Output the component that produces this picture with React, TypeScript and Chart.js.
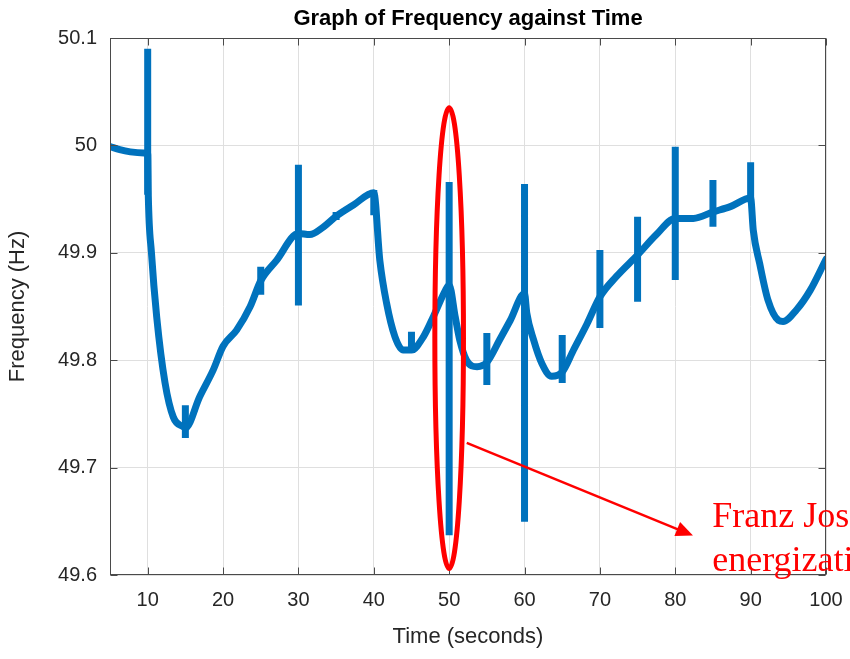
import React, { useEffect, useRef } from 'react';
import { Chart, registerables } from 'chart.js';

Chart.register(...registerables);

// ---- data ----
const timeValues = [
  5, 6.3, 7.7, 9.5, 10, 10.08, 10.5, 11.2, 12.3, 13.4, 14.7, 15, 16.9, 18.7, 20,
  21.8, 23.6, 25, 27.1, 30, 31.5, 33.3, 35, 37.3, 40, 40.8, 41.7, 42.8, 43.9, 45,
  46.6, 47.9, 49.5, 50, 50.8, 51.4, 52.3, 53.7, 55, 56.7, 58.1, 60, 60.3, 61.2,
  62.3, 63.6, 65, 66.5, 68.3, 70, 72.2, 75, 77.5, 80, 82.4, 85, 87.3, 90, 90.35,
  91.2, 92.3, 93.7, 94.3, 96.1, 97.9, 100,
];
const frequencyValues = [
  49.999, 49.996, 49.994, 49.993, 49.993, 49.954, 49.9, 49.84, 49.779, 49.747, 49.738,
  49.737, 49.766, 49.791, 49.813, 49.828, 49.85, 49.874, 49.893, 49.918, 49.917, 49.924,
  49.934, 49.9445, 49.956, 49.893, 49.853, 49.822, 49.8095, 49.8095, 49.822, 49.8405,
  49.865, 49.87, 49.8405, 49.819, 49.8, 49.794, 49.798, 49.819, 49.837, 49.862, 49.844,
  49.819, 49.797, 49.785, 49.789, 49.8095, 49.834, 49.859, 49.878, 49.898, 49.917,
  49.932, 49.932, 49.938, 49.943, 49.951, 49.921, 49.89, 49.856, 49.837, 49.836,
  49.847, 49.865, 49.894,
];
const eventTimes = [10, 15, 25, 30, 35, 40, 45, 50, 55, 60, 65, 70, 75, 80, 85, 90];
const spikeHigh = [
  50.09, 49.758, 49.887, 49.982, 49.938, 49.9585, 49.8265, 49.966, 49.8253, 49.964,
  49.8235, 49.9026, 49.9336, 49.9988, 49.9678, 49.9843,
];
const spikeLow = [
  49.954, 49.7276, 49.861, 49.851, 49.9305, 49.935, 49.8067, 49.637, 49.7769, 49.6496,
  49.7788, 49.83, 49.8545, 49.8747, 49.9243, 49.951,
];
const xTickValues = [10, 20, 30, 40, 50, 60, 70, 80, 90, 100];
const yTickValues = [49.6, 49.7, 49.8, 49.9, 50, 50.1];
const yTickLabels = ['49.6', '49.7', '49.8', '49.9', '50', '50.1'];

const chartTitle = 'Graph of Frequency against Time';
const xTitle = 'Time (seconds)';
const yTitle = 'Frequency (Hz)';
const noteLines = ['Franz Josef', 'energization'];

// annotation anchors in data units
const ellipseAt = { x: 50, halfWidth: 1.9, top: 50.035, bottom: 49.606 };
const arrowAt = { x0: 52.33, y0: 49.723, x1: 82.35, y1: 49.6368 };
const noteAt = { x: 84.9, y: [49.645, 49.6037] };

const BLUE = '#0072BD';
const RED = '#ff0000';
const AXIS = '#262626';
const FONT = '"Liberation Sans", Arial, Helvetica, sans-serif';

const decorPlugin = {
  id: 'decor',
  afterDatasetsDraw(chart: any) {
    const { ctx, chartArea, scales } = chart;
    const L = Math.round(chartArea.left) + 0.5;
    const R = Math.round(chartArea.right) - 0.5;
    const T = Math.round(chartArea.top) + 0.5;
    const B = Math.round(chartArea.bottom) - 0.5;
    ctx.save();
    ctx.strokeStyle = '#4a4a4a';
    ctx.lineWidth = 1;
    ctx.strokeRect(L, T, R - L, B - T);
    ctx.beginPath();
    const tl = 7;
    xTickValues.forEach((v) => {
      const px = Math.round(scales.x.getPixelForValue(v)) + 0.5;
      ctx.moveTo(px, B);
      ctx.lineTo(px, B - tl);
      ctx.moveTo(px, T);
      ctx.lineTo(px, T + tl);
    });
    yTickValues.forEach((v) => {
      const py = Math.round(scales.y.getPixelForValue(v)) + 0.5;
      ctx.moveTo(L, py);
      ctx.lineTo(L + tl, py);
      ctx.moveTo(R, py);
      ctx.lineTo(R - tl, py);
    });
    ctx.stroke();
    ctx.restore();
  },
  afterDraw(chart: any) {
    const { ctx, scales, chartArea } = chart;
    const xs = scales.x;
    const ys = scales.y;
    ctx.save();
    // title, centred over the plot box
    ctx.fillStyle = '#000000';
    ctx.font = 'bold 22px ' + FONT;
    ctx.textAlign = 'center';
    ctx.textBaseline = 'middle';
    ctx.fillText(chartTitle, (chartArea.left + chartArea.right) / 2, chartArea.top / 2);
    // ellipse
    const cx = xs.getPixelForValue(ellipseAt.x);
    const rx = xs.getPixelForValue(ellipseAt.x + ellipseAt.halfWidth) - cx;
    const yt = ys.getPixelForValue(ellipseAt.top);
    const yb = ys.getPixelForValue(ellipseAt.bottom);
    ctx.strokeStyle = RED;
    ctx.lineWidth = 5;
    ctx.beginPath();
    ctx.ellipse(cx, (yt + yb) / 2, rx, (yb - yt) / 2, 0, 0, Math.PI * 2);
    ctx.stroke();
    // arrow
    const ax0 = xs.getPixelForValue(arrowAt.x0);
    const ay0 = ys.getPixelForValue(arrowAt.y0);
    const ax1 = xs.getPixelForValue(arrowAt.x1);
    const ay1 = ys.getPixelForValue(arrowAt.y1);
    const dx = ax1 - ax0;
    const dy = ay1 - ay0;
    const len = Math.hypot(dx, dy);
    const ux = dx / len;
    const uy = dy / len;
    const headLen = 17;
    const headHalf = 7.5;
    const bx = ax1 - ux * headLen;
    const by = ay1 - uy * headLen;
    ctx.lineWidth = 2.5;
    ctx.beginPath();
    ctx.moveTo(ax0, ay0);
    ctx.lineTo(bx + ux * 2, by + uy * 2);
    ctx.stroke();
    ctx.fillStyle = RED;
    ctx.beginPath();
    ctx.moveTo(ax1, ay1);
    ctx.lineTo(bx - uy * headHalf, by + ux * headHalf);
    ctx.lineTo(bx + uy * headHalf, by - ux * headHalf);
    ctx.closePath();
    ctx.fill();
    // note text
    ctx.font = '36px "Liberation Serif", "Times New Roman", serif';
    ctx.textAlign = 'left';
    ctx.textBaseline = 'alphabetic';
    const tx = xs.getPixelForValue(noteAt.x);
    noteLines.forEach((line, i) => {
      ctx.fillText(line, tx, ys.getPixelForValue(noteAt.y[i]));
    });
    ctx.restore();
  },
};

export default function App() {
  const ref = useRef<HTMLCanvasElement | null>(null);

  useEffect(() => {
    document.body.style.margin = '0';
    const canvas = ref.current;
    if (!canvas) return;
    Chart.defaults.font.family = FONT;
    const curve = timeValues.map((t, i) => ({ x: t, y: frequencyValues[i] }));
    const spikes: any[] = [];
    eventTimes.forEach((t, i) => {
      spikes.push({ x: t, y: spikeHigh[i] }, { x: t, y: spikeLow[i] }, { x: t, y: null });
    });
    const chart = new Chart(canvas, {
      type: 'line',
      data: {
        datasets: [
          {
            data: curve,
            borderColor: BLUE,
            borderWidth: 7,
            pointRadius: 0,
            cubicInterpolationMode: 'monotone',
            borderJoinStyle: 'round',
            borderCapStyle: 'round',
            fill: false,
          },
          {
            data: spikes,
            borderColor: BLUE,
            borderWidth: 7,
            pointRadius: 0,
            tension: 0,
            spanGaps: false,
            borderCapStyle: 'butt',
            fill: false,
          },
        ],
      } as any,
      options: {
        responsive: false,
        animation: false,
        events: [],
        layout: { padding: { left: 0, right: 24, top: 38, bottom: 0 } },
        plugins: {
          legend: { display: false },
          tooltip: { enabled: false },
          title: { display: false },
        },
        scales: {
          x: {
            type: 'linear',
            min: 5,
            max: 100,
            afterBuildTicks: (s: any) => {
              s.ticks = xTickValues.map((v) => ({ value: v }));
            },
            afterFit: (s: any) => {
              s.height = 84;
              s.paddingLeft = 0;
              s.paddingRight = 0;
            },
            grid: { color: '#dfdfdf', drawTicks: false, lineWidth: 1 },
            border: { display: false },
            ticks: {
              color: AXIS,
              font: { size: 20 },
              padding: 13,
              maxRotation: 0,
              autoSkip: false,
              callback: (v: any) => String(v),
            },
            title: {
              display: true,
              text: xTitle,
              color: AXIS,
              font: { size: 22 },
              padding: { top: 0, bottom: 9 },
            },
          },
          y: {
            type: 'linear',
            min: 49.6,
            max: 50.1,
            afterBuildTicks: (s: any) => {
              s.ticks = yTickValues.map((v) => ({ value: v }));
            },
            afterFit: (s: any) => {
              s.width = 110;
              s.paddingTop = 0;
              s.paddingBottom = 0;
            },
            grid: { color: '#dfdfdf', drawTicks: false, lineWidth: 1 },
            border: { display: false },
            ticks: {
              color: AXIS,
              font: { size: 20 },
              padding: 13,
              autoSkip: false,
              callback: (v: any) => {
                const k = yTickValues.findIndex((t) => Math.abs(t - v) < 1e-9);
                return k >= 0 ? yTickLabels[k] : '';
              },
            },
            title: {
              display: true,
              text: yTitle,
              color: AXIS,
              font: { size: 22 },
              padding: { top: 5, bottom: 0 },
            },
          },
        },
      } as any,
      plugins: [decorPlugin],
    });
    return () => chart.destroy();
  }, []);

  return (
    <div style={{ width: 850, height: 659 }}>
      <canvas ref={ref} width={850} height={659} style={{ display: 'block' }} />
    </div>
  );
}
